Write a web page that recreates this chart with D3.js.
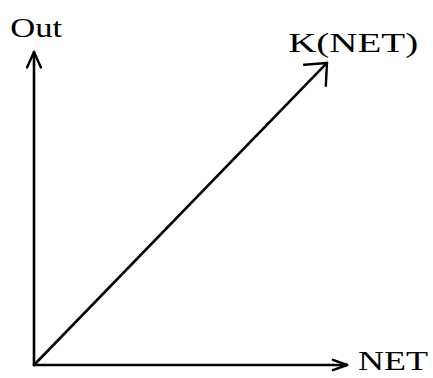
<!DOCTYPE html>
<html><head><meta charset="utf-8">
<script src="https://cdn.jsdelivr.net/npm/d3@7"></script>
<style>html,body{margin:0;padding:0;background:#fff;}svg{display:block;}</style>
</head><body>
<script>
// Data (unitless domain 0..1)
const xAxisLine = [{net:0,out:0},{net:1,out:0}];
const yAxisLine = [{net:0,out:0},{net:0,out:1}];
const kLine = [{net:0,out:0},{net:0.936,out:0.965}];
const labels = [
  {text:"Out", net:-0.076, out:1.048, len:52},
  {text:"K(NET)", net:0.812, out:1.0, len:130},
  {text:"NET", net:1.035, out:-0.016, len:70}
];

const W=433,H=378;
const svg=d3.select("body").append("svg").attr("width",W).attr("height",H);
const x=d3.scaleLinear().domain([0,1]).range([34,347]);
const y=d3.scaleLinear().domain([0,1]).range([365,52]);
const line=d3.line().x(d=>x(d.net)).y(d=>y(d.out));

function drawArrow(data, headLen, headAng){
  svg.append("path").attr("d",line(data)).attr("fill","none")
    .attr("stroke","#000").attr("stroke-width",2.6).attr("stroke-linecap","round");
  const a=data[data.length-2], b=data[data.length-1];
  const tx=x(b.net), ty=y(b.out);
  const dir=Math.atan2(ty-y(a.out), tx-x(a.net));
  [-1,1].forEach(s=>{
    const ang=dir+Math.PI+s*headAng;
    svg.append("line").attr("x1",tx).attr("y1",ty)
      .attr("x2",tx+headLen*Math.cos(ang)).attr("y2",ty+headLen*Math.sin(ang))
      .attr("stroke","#000").attr("stroke-width",2.4).attr("stroke-linecap","round");
  });
}
drawArrow(yAxisLine,17,0.42);
drawArrow(xAxisLine,15,0.35);
drawArrow(kLine,23,0.72);

svg.selectAll("text.lbl").data(labels).enter().append("text")
  .attr("class","lbl")
  .attr("x",d=>x(d.net)).attr("y",d=>y(d.out))
  .attr("textLength",d=>d.len).attr("lengthAdjust","spacingAndGlyphs")
  .attr("font-family","'Liberation Serif','DejaVu Serif',serif")
  .attr("font-size",28).attr("fill","#000")
  .text(d=>d.text);
</script>
</body></html>
